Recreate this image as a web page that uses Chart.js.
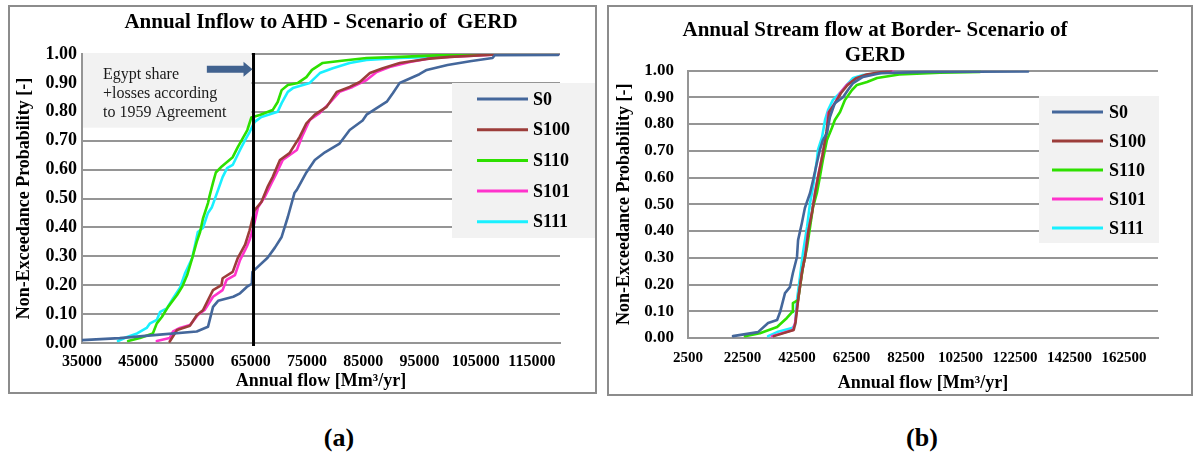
<!DOCTYPE html>
<html>
<head>
<meta charset="utf-8">
<script src="https://cdn.jsdelivr.net/npm/chart.js@4.4.0/dist/chart.umd.min.js"></script>
<style>
  html, body { margin: 0; padding: 0; background: #fff; }
  body { width: 1196px; height: 452px; position: relative; overflow: hidden;
         font-family: 'Liberation Serif', 'Times New Roman', serif; }
  .panel { position: absolute; border: 2px solid #8c8c8c; box-sizing: border-box; background: #fff; }
  #panelA { left: 8px; top: 5px; width: 589px; height: 389px; }
  #panelB { left: 607px; top: 5px; width: 586px; height: 391px; }
  .panel canvas { position: absolute; left: 0; top: 0; }
  .title { position: absolute; font-weight: bold; font-size: 21px; white-space: nowrap;
           transform: translateX(-50%); text-align: center; line-height: 25px; color: #000; }
  .cap { position: absolute; font-weight: bold; font-size: 26px; transform: translate(-50%, -50%); color: #000; }
</style>
</head>
<body>
<div class="panel" id="panelA"><canvas id="chartA" width="585" height="385"></canvas></div>
<div class="panel" id="panelB"><canvas id="chartB" width="582" height="387"></canvas></div>
<div class="title" style="left:321px; top:9px;">Annual Inflow to AHD - Scenario of &nbsp;GERD</div>
<div class="title" style="left:875px; top:17px;">Annual Stream flow at Border- Scenario of<br>GERD</div>
<div class="cap" style="left:339px; top:438px;">(a)</div>
<div class="cap" style="left:922px; top:438px;">(b)</div>
<script>
// ---- Series (annual flow [Mm3/yr], non-exceedance probability) ----
const seriesNames = ['S0', 'S100', 'S110', 'S101', 'S111'];
const seriesColors = ['#44679b', '#9c3d3a', '#2ee000', '#ff33cc', '#19f0ff'];

// (a) Annual inflow to AHD
const ahdS0 = [[35000,0.010],[41700,0.017],[48300,0.028],[55400,0.040],[57400,0.056],[58300,0.125],[59200,0.146],
  [61900,0.160],[63100,0.172],[64300,0.194],[65200,0.205],[65300,0.246],[68000,0.295],[69300,0.330],[70500,0.367],
  [71600,0.436],[72800,0.520],[73200,0.530],[74900,0.590],[76400,0.633],[78200,0.660],[80800,0.690],[82600,0.737],
  [84900,0.770],[85600,0.790],[87400,0.813],[89200,0.835],[90300,0.865],[91500,0.900],[92700,0.910],[95000,0.930],
  [96300,0.945],[100000,0.962],[104000,0.975],[108000,0.986],[108400,0.996],[119700,0.997]];
const ahdS100 = [[50600,0.005],[51900,0.045],[54200,0.060],[55400,0.096],[56500,0.113],[57700,0.160],[58300,0.183],
  [59800,0.200],[60000,0.224],[61800,0.246],[62700,0.294],[64000,0.340],[64800,0.390],[65700,0.460],[66900,0.488],
  [68000,0.540],[68900,0.574],[70200,0.633],[71900,0.657],[73700,0.713],[74900,0.760],[76400,0.790],[78500,0.817],
  [80300,0.869],[82600,0.886],[84400,0.903],[86200,0.934],[88500,0.951],[91500,0.969],[96300,0.983],[100400,0.990],
  [108000,0.998],[119700,1.000]];
const ahdS110 = [[43200,0.007],[45300,0.017],[47600,0.033],[48300,0.068],[49200,0.090],[50300,0.125],[51900,0.166],
  [52800,0.194],[53700,0.235],[54600,0.294],[55400,0.350],[56000,0.384],[56500,0.430],[57400,0.484],[57700,0.510],
  [58300,0.555],[58800,0.590],[59900,0.612],[61800,0.643],[62700,0.678],[63600,0.709],[64400,0.737],[65100,0.780],
  [66600,0.789],[68900,0.806],[69800,0.834],[70500,0.875],[71600,0.893],[73400,0.900],[74900,0.920],[75900,0.945],
  [77800,0.969],[80800,0.976],[85600,0.986],[91500,0.990],[100000,0.997],[109000,1.000]];
const ahdS101 = [[48300,0.007],[50600,0.017],[51200,0.040],[52400,0.052],[54200,0.062],[55600,0.097],[56800,0.114],
  [58300,0.160],[60000,0.183],[60700,0.218],[62200,0.235],[63100,0.287],[64300,0.333],[64800,0.357],[65400,0.395],
  [66300,0.470],[67500,0.505],[68700,0.553],[69600,0.588],[70700,0.633],[73200,0.668],[74100,0.713],[75500,0.772],
  [77300,0.796],[79000,0.830],[80800,0.869],[83100,0.886],[85600,0.910],[87400,0.938],[89700,0.955],[93300,0.972],
  [97300,0.986],[100400,0.990],[108000,0.998],[119700,1.000]];
const ahdS111 = [[41400,0.007],[42900,0.020],[44800,0.033],[46500,0.052],[47100,0.068],[48300,0.080],[48900,0.108],
  [50100,0.120],[51200,0.155],[52400,0.190],[53300,0.240],[54600,0.294],[55600,0.384],[56500,0.398],[57400,0.450],
  [58100,0.470],[59200,0.530],[60000,0.574],[60800,0.605],[61800,0.616],[63100,0.668],[64000,0.702],[64800,0.730],
  [65700,0.765],[66900,0.782],[69800,0.800],[70500,0.830],[71600,0.869],[72500,0.882],[75500,0.900],[77300,0.934],
  [79600,0.951],[82600,0.969],[85600,0.979],[91500,0.986],[97300,0.990],[109000,1.000]];

// (b) Annual stream flow at the border
const borderS0 = [[19000,0.007],[28200,0.022],[31900,0.056],[35200,0.067],[36300,0.097],[38100,0.168],[39900,0.190],
  [41000,0.243],[42500,0.303],[42900,0.366],[44300,0.430],[45400,0.486],[47300,0.542],[48400,0.590],[49800,0.654],
  [50900,0.703],[52000,0.740],[53500,0.766],[54600,0.826],[56400,0.878],[59400,0.900],[61200,0.927],[63100,0.953],
  [66700,0.976],[73000,0.990],[90000,0.995],[127300,0.996]];
const borderS100 = [[34000,0.007],[41300,0.030],[42000,0.060],[43000,0.150],[44400,0.250],[45600,0.310],[46700,0.400],
  [48100,0.475],[49300,0.550],[50400,0.610],[51900,0.685],[53300,0.770],[54300,0.845],[56600,0.880],[58600,0.915],
  [61000,0.945],[64000,0.970],[68000,0.985],[77000,1.000]];
const borderS110 = [[23400,0.007],[28900,0.018],[35200,0.041],[38800,0.075],[40700,0.097],[41000,0.130],[42900,0.142],
  [43600,0.190],[44700,0.265],[46200,0.340],[47300,0.415],[48400,0.490],[49800,0.542],[50900,0.602],[52000,0.665],
  [53500,0.740],[55300,0.785],[56400,0.815],[58300,0.845],[60100,0.890],[62700,0.927],[64500,0.946],[68200,0.957],
  [71900,0.972],[80000,0.985],[95000,0.992],[109700,0.995]];
const borderS101 = [[33300,0.007],[41000,0.030],[41800,0.056],[42900,0.142],[44300,0.243],[45400,0.303],[46500,0.390],
  [48000,0.467],[49100,0.542],[50200,0.602],[51700,0.677],[53500,0.766],[53900,0.841],[56400,0.878],[58300,0.916],
  [60800,0.946],[64500,0.972],[68200,0.983],[77700,1.000]];
const borderS111 = [[31900,0.007],[35200,0.022],[40700,0.037],[41800,0.049],[42500,0.142],[43600,0.228],[44700,0.318],
  [46200,0.415],[47300,0.505],[48400,0.565],[49800,0.665],[50200,0.703],[51700,0.751],[52800,0.815],[53900,0.852],
  [55700,0.890],[58300,0.916],[60800,0.946],[63100,0.972],[66700,0.983],[73000,0.990],[76000,1.000]];

// ---- Axis ticks ----
const ahdFlowTicks = [35000, 45000, 55000, 65000, 75000, 85000, 95000, 105000, 115000];
const borderFlowTicks = [2500, 22500, 42500, 62500, 82500, 102500, 122500, 142500, 162500];
const probTicks = [0, 0.1, 0.2, 0.3, 0.4, 0.5, 0.6, 0.7, 0.8, 0.9, 1.0];

// Egypt share (55.5) + losses (10) according to the 1959 Agreement, Mm3/yr
const agreementFlow = 65500;
const agreementNote = ['Egypt share', '+losses according', 'to 1959 Agreement'];

const FONT = "'Liberation Serif', 'Times New Roman', serif";
const GRID = '#959595';

function toPoints(pairs) { return pairs.map(([x, y]) => ({ x, y })); }

function makeDatasets(seriesList) {
  return seriesList.map((pairs, i) => ({
    label: seriesNames[i],
    data: toPoints(pairs),
    borderColor: seriesColors[i],
    backgroundColor: seriesColors[i],
    borderWidth: 2.6,
    pointRadius: 0,
    showLine: true,
    tension: 0,
    fill: false
  }));
}

// Legend drawn as a grey box inside the plot
const panelLegend = {
  id: 'panelLegend',
  afterDatasetsDraw(chart, args, o) {
    const ctx = chart.ctx;
    ctx.save();
    ctx.fillStyle = '#f2f2f2';
    ctx.fillRect(o.x, o.y, o.w, o.h);
    ctx.font = 'bold 18px ' + FONT;
    ctx.textBaseline = 'middle';
    ctx.textAlign = 'left';
    chart.data.datasets.forEach((ds, i) => {
      const y = o.rowStart + i * o.rowGap;
      ctx.strokeStyle = ds.borderColor;
      ctx.lineWidth = 3;
      ctx.beginPath();
      ctx.moveTo(o.lineFrom, y);
      ctx.lineTo(o.lineTo, y);
      ctx.stroke();
      ctx.fillStyle = '#000';
      ctx.fillText(ds.label, o.textX, y + 1);
    });
    ctx.restore();
  }
};

// Agreement marker: note box, arrow and vertical line
const agreementMarker = {
  id: 'agreementMarker',
  beforeDatasetsDraw(chart) {
    const { ctx, chartArea, scales: { x, y } } = chart;
    const right = x.getPixelForValue(agreementFlow) - 2;
    const bottom = y.getPixelForValue(0.745);
    ctx.save();
    ctx.fillStyle = '#f2f2f2';
    ctx.fillRect(chartArea.left + 1, chartArea.top - 1, right - chartArea.left - 1, bottom - chartArea.top + 1);
    ctx.restore();
  },
  afterDatasetsDraw(chart) {
    const { ctx, chartArea, scales: { x, y } } = chart;
    const lx = x.getPixelForValue(agreementFlow);
    ctx.save();
    // vertical line
    ctx.strokeStyle = '#000';
    ctx.lineWidth = 3;
    ctx.beginPath();
    ctx.moveTo(lx, chartArea.top - 1);
    ctx.lineTo(lx, chartArea.bottom + 3);
    ctx.stroke();
    // block arrow pointing at the line
    const ay = y.getPixelForValue(0.947);
    const tail = x.getPixelForValue(57200);
    const tip = lx - 1;
    const headLen = 9;
    ctx.fillStyle = '#41628f';
    ctx.beginPath();
    ctx.moveTo(tail, ay - 3.5);
    ctx.lineTo(tip - headLen, ay - 3.5);
    ctx.lineTo(tip - headLen, ay - 7.5);
    ctx.lineTo(tip, ay);
    ctx.lineTo(tip - headLen, ay + 7.5);
    ctx.lineTo(tip - headLen, ay + 3.5);
    ctx.lineTo(tail, ay + 3.5);
    ctx.closePath();
    ctx.fill();
    // note text
    ctx.fillStyle = '#1a1a1a';
    ctx.font = '16px ' + FONT;
    ctx.textBaseline = 'middle';
    ctx.textAlign = 'left';
    agreementNote.forEach((t, i) => ctx.fillText(t, chartArea.left + 21, chartArea.top + 21 + i * 19));
    ctx.restore();
  }
};

function scalesFor(o) {
  return {
    x: {
      type: 'linear',
      min: o.xMin, max: o.xMax,
      afterBuildTicks: (s) => { s.ticks = o.xTicks.map(v => ({ value: v })); },
      afterFit: (s) => { s.height = o.xHeight; },
      grid: { display: false, drawTicks: false },
      border: { display: true, color: GRID, width: 2 },
      ticks: {
        color: '#000', padding: o.xPad, maxRotation: 0, autoSkip: false,
        font: { family: FONT, size: o.xFont, weight: 'bold' },
        callback: (v) => String(v)
      },
      title: {
        display: true, text: 'Annual flow [Mm³/yr]', color: '#000',
        font: { family: FONT, size: 18, weight: 'bold' }, padding: { top: 0, bottom: 0 }
      }
    },
    y: {
      type: 'linear',
      min: 0, max: 1,
      afterBuildTicks: (s) => { s.ticks = probTicks.map(v => ({ value: v })); },
      afterFit: (s) => { s.width = o.yWidth; },
      grid: { display: true, drawTicks: false, color: GRID, lineWidth: 2 },
      border: { display: true, color: GRID, width: 2 },
      ticks: {
        color: '#000', padding: o.yPad,
        font: { family: FONT, size: o.yFont, weight: 'bold' },
        callback: (v) => Number(v).toFixed(2)
      },
      title: {
        display: true, text: 'Non-Exceedance Probability [-]', color: '#000',
        font: { family: FONT, size: 18, weight: 'bold' }, padding: { top: o.yTitlePad, bottom: 0 }
      }
    }
  };
}

const common = {
  responsive: false,
  animation: false,
  devicePixelRatio: 1,
  plugins: { legend: { display: false }, title: { display: false }, tooltip: { enabled: false } },
  elements: { line: { borderCapStyle: 'round', borderJoinStyle: 'round' } }
};

new Chart(document.getElementById('chartA'), {
  type: 'scatter',
  data: { datasets: makeDatasets([ahdS0, ahdS100, ahdS110, ahdS101, ahdS111]) },
  options: Object.assign({}, common, {
    layout: { padding: { top: 47, right: 35, bottom: 0, left: 0 } },
    scales: scalesFor({ xMin: 35000, xMax: 120000, xTicks: ahdFlowTicks, xHeight: 49, xPad: 9, xFont: 16,
                        yWidth: 72, yPad: 5, yFont: 18, yTitlePad: 4 }),
    plugins: Object.assign({}, common.plugins, {
      panelLegend: { x: 442, y: 76, w: 143, h: 155, rowStart: 92, rowGap: 30.7, lineFrom: 467, lineTo: 518, textX: 523 }
    })
  }),
  plugins: [agreementMarker, panelLegend]
});

new Chart(document.getElementById('chartB'), {
  type: 'scatter',
  data: { datasets: makeDatasets([borderS0, borderS100, borderS110, borderS101, borderS111]) },
  options: Object.assign({}, common, {
    layout: { padding: { top: 63.5, right: 33, bottom: 0, left: 0 } },
    scales: scalesFor({ xMin: 2500, xMax: 175000, xTicks: borderFlowTicks, xHeight: 56, xPad: 11, xFont: 15,
                        yWidth: 79, yPad: 14, yFont: 17, yTitlePad: 5 }),
    plugins: Object.assign({}, common.plugins, {
      panelLegend: { x: 430, y: 89, w: 120, h: 147, rowStart: 105, rowGap: 29, lineFrom: 443, lineTo: 494, textX: 500 }
    })
  }),
  plugins: [panelLegend]
});
</script>
</body>
</html>
